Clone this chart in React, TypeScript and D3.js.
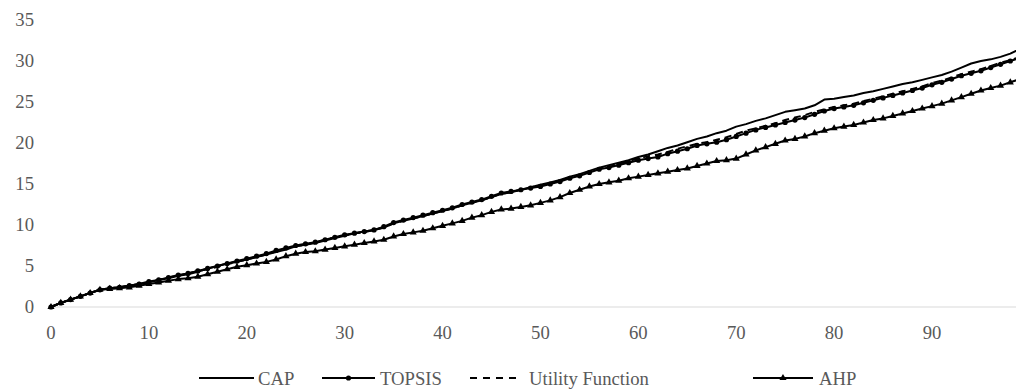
import React from 'react';
import * as d3 from 'd3';

// x categories 0..99
const steps = d3.range(0, 100);

const capValues = [
  0, 0.5, 0.9, 1.3, 1.7, 2.1, 2.3, 2.4, 2.6, 2.8,
  3.0, 3.3, 3.5, 3.8, 4.0, 4.3, 4.7, 5.0, 5.3, 5.5,
  5.8, 6.1, 6.4, 6.7, 7.0, 7.4, 7.6, 7.8, 8.1, 8.4,
  8.7, 9.0, 9.2, 9.4, 9.7, 10.2, 10.5, 10.8, 11.1, 11.4,
  11.7, 12.0, 12.4, 12.7, 13.0, 13.4, 13.8, 14.0, 14.3, 14.6,
  14.9, 15.2, 15.5, 15.9, 16.2, 16.6, 17.0, 17.3, 17.6, 17.9,
  18.3, 18.6, 19.0, 19.4, 19.7, 20.1, 20.5, 20.8, 21.2, 21.5,
  22.0, 22.3, 22.7, 23.0, 23.4, 23.8, 24.0, 24.2, 24.6, 25.3,
  25.4, 25.6, 25.8, 26.1, 26.3, 26.6, 26.9, 27.2, 27.4, 27.7,
  28.0, 28.3, 28.7, 29.2, 29.7, 30.0, 30.2, 30.5, 30.9, 31.5,
];

const topsisValues = [
  0, 0.5, 0.9, 1.3, 1.7, 2.1, 2.3, 2.4, 2.6, 2.8,
  3.1, 3.3, 3.6, 3.9, 4.1, 4.4, 4.7, 5.0, 5.3, 5.6,
  5.9, 6.2, 6.5, 6.9, 7.2, 7.5, 7.7, 7.9, 8.2, 8.5,
  8.8, 9.0, 9.2, 9.4, 9.8, 10.3, 10.6, 10.9, 11.2, 11.5,
  11.8, 12.1, 12.5, 12.8, 13.1, 13.5, 13.9, 14.1, 14.3, 14.5,
  14.7, 15.0, 15.3, 15.7, 16.0, 16.4, 16.8, 17.0, 17.3, 17.6,
  17.9, 18.1, 18.3, 18.7, 19.0, 19.3, 19.7, 19.9, 20.1, 20.4,
  20.8, 21.2, 21.6, 21.9, 22.2, 22.5, 22.8, 23.1, 23.5, 23.9,
  24.2, 24.4, 24.6, 24.9, 25.2, 25.5, 25.8, 26.1, 26.4, 26.7,
  27.1, 27.4, 27.8, 28.2, 28.5, 28.8, 29.2, 29.6, 30.0, 30.4,
];

const utilityValues = [
  0, 0.5, 0.9, 1.3, 1.7, 2.1, 2.3, 2.4, 2.6, 2.8,
  3.0, 3.3, 3.6, 3.8, 4.1, 4.4, 4.6, 4.9, 5.2, 5.5,
  5.8, 6.1, 6.4, 6.8, 7.1, 7.4, 7.6, 7.9, 8.2, 8.5,
  8.7, 9.0, 9.1, 9.4, 9.7, 10.2, 10.5, 10.8, 11.1, 11.4,
  11.7, 12.0, 12.4, 12.7, 13.0, 13.4, 13.8, 14.0, 14.3, 14.6,
  14.8, 15.1, 15.4, 15.8, 16.1, 16.5, 16.9, 17.1, 17.4, 17.8,
  18.1, 18.4, 18.6, 18.9, 19.3, 19.6, 19.9, 20.1, 20.4, 20.7,
  21.1, 21.5, 21.8, 22.1, 22.4, 22.8, 23.1, 23.4, 23.8, 24.1,
  24.4, 24.6, 24.8, 25.1, 25.4, 25.7, 26.0, 26.3, 26.6, 26.9,
  27.3, 27.6, 28.0, 28.4, 28.7, 29.0, 29.4, 29.8, 30.1, 30.5,
];

const ahpValues = [
  0, 0.5, 0.9, 1.3, 1.7, 2.1, 2.2, 2.3, 2.4, 2.6,
  2.8, 3.0, 3.2, 3.4, 3.5, 3.7, 4.0, 4.3, 4.6, 4.9,
  5.1, 5.3, 5.5, 5.8, 6.2, 6.5, 6.7, 6.8, 7.0, 7.2,
  7.4, 7.6, 7.8, 8.0, 8.2, 8.6, 8.9, 9.1, 9.3, 9.6,
  9.9, 10.2, 10.5, 10.9, 11.2, 11.6, 11.9, 12.0, 12.2, 12.4,
  12.7, 13.0, 13.4, 13.9, 14.3, 14.7, 15.0, 15.2, 15.4, 15.7,
  15.9, 16.1, 16.3, 16.5, 16.7, 16.9, 17.2, 17.5, 17.8, 17.9,
  18.1, 18.6, 19.1, 19.5, 19.9, 20.3, 20.5, 20.8, 21.2, 21.5,
  21.8, 22.0, 22.2, 22.5, 22.8, 23.0, 23.3, 23.6, 23.9, 24.2,
  24.5, 24.8, 25.2, 25.6, 26.0, 26.4, 26.7, 27.0, 27.4, 27.8,
];

const xTicks = [0, 10, 20, 30, 40, 50, 60, 70, 80, 90];
const yTicks = [0, 5, 10, 15, 20, 25, 30, 35];
const seriesNames = ['CAP', 'TOPSIS', 'Utility Function', 'AHP'];

const W = 1016;
const H = 389;
const FONT = "'Liberation Serif', 'Times New Roman', serif";
const TEXT = '#595959';
const textStyle = { fontFamily: FONT, fontSize: 18.7 };

const App = () => {
  const x = d3.scaleLinear().domain([0, 90]).range([51, 932]);
  const y = d3.scaleLinear().domain([0, 35]).range([307, 20]);

  const line = d3
    .line<number>()
    .x((d, i) => x(steps[i]))
    .y((d) => y(d));

  const triangle = d3.symbol().type(d3.symbolTriangle).size(22)();

  // legend layout: line start, line end, text start
  const legend = [
    { name: seriesNames[0], x0: 199, x1: 254, tx: 258 },
    { name: seriesNames[1], x0: 322, x1: 375, tx: 380 },
    { name: seriesNames[2], x0: 470, x1: 521, tx: 529 },
    { name: seriesNames[3], x0: 753, x1: 813, tx: 819 },
  ];

  return (
    <svg
      width={W}
      height={H}
      style={{ position: 'absolute', left: 0, top: 0, background: '#fff' }}
    >
      {/* y labels */}
      {yTicks.map((t) => (
        <text key={t} x={34} y={y(t)} dy="0.33em" textAnchor="end" style={textStyle} fill={TEXT}>
          {t}
        </text>
      ))}

      {/* x axis */}
      <line x1={x(0)} x2={W} y1={y(0)} y2={y(0)} stroke="#d9d9d9" strokeWidth={1} />
      {xTicks.map((t) => (
        <text key={t} x={x(t)} y={333} dy="0.33em" textAnchor="middle" style={textStyle} fill={TEXT}>
          {t}
        </text>
      ))}

      {/* CAP */}
      <path d={line(capValues) || ''} fill="none" stroke="#000" strokeWidth={2} strokeLinejoin="round" />

      {/* TOPSIS */}
      <path d={line(topsisValues) || ''} fill="none" stroke="#000" strokeWidth={2} strokeLinejoin="round" />
      {topsisValues.map((v, i) => (
        <circle key={i} cx={x(steps[i])} cy={y(v)} r={2.6} fill="#000" />
      ))}

      {/* Utility Function */}
      <path
        d={line(utilityValues) || ''}
        fill="none"
        stroke="#000"
        strokeWidth={2}
        strokeDasharray="7,5"
      />

      {/* AHP */}
      <path d={line(ahpValues) || ''} fill="none" stroke="#000" strokeWidth={2} strokeLinejoin="round" />
      {ahpValues.map((v, i) => (
        <path key={i} d={triangle || ''} transform={`translate(${x(steps[i])},${y(v)})`} fill="#000" />
      ))}

      {/* legend */}
      {legend.map((l, i) => (
        <g key={l.name}>
          <line
            x1={l.x0}
            x2={l.x1}
            y1={378}
            y2={378}
            stroke="#000"
            strokeWidth={2}
            strokeDasharray={i === 2 ? '7,6' : undefined}
          />
          {i === 1 && <circle cx={(l.x0 + l.x1) / 2} cy={378} r={2.6} fill="#000" />}
          {i === 3 && (
            <path d={triangle || ''} transform={`translate(${(l.x0 + l.x1) / 2},378)`} fill="#000" />
          )}
          <text x={l.tx} y={379} dy="0.33em" style={textStyle} fill={TEXT}>
            {l.name}
          </text>
        </g>
      ))}
    </svg>
  );
};

export default App;
